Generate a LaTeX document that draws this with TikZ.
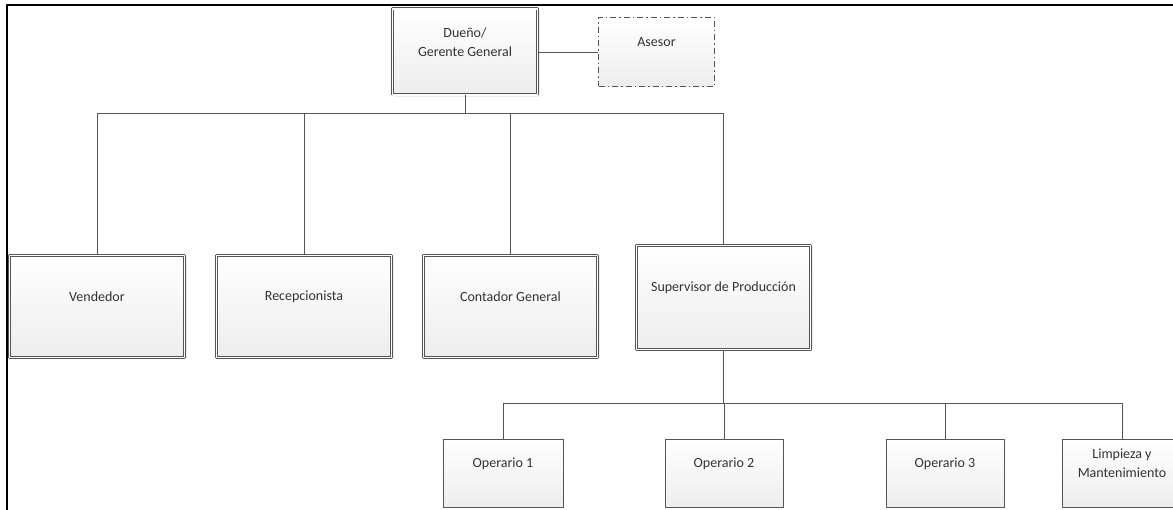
\documentclass[tikz,border=0pt]{standalone}
\usepackage{fontspec}
\setmainfont{Carlito}
\usetikzlibrary{shadows}
\definecolor{boxline}{HTML}{555555}
\definecolor{boxfill}{HTML}{EDEDED}
\definecolor{txtgray}{HTML}{333333}

\begin{document}
\begin{tikzpicture}[x=1pt,y=-1pt,line join=round,
  link/.style={draw=boxline,line width=0.9pt},
  lbl/.style={font=\fontsize{14}{19}\selectfont,text=txtgray,align=center,yshift=10pt},
  shaded/.style={top color=white,bottom color=boxfill},
  softshadow/.style={drop shadow={shadow xshift=2pt,shadow yshift=-2pt,opacity=0.15,fill=gray}},
  mainbox/.style={shaded,softshadow,draw=boxline,line width=0.7pt,double=white,double distance=1.6pt,minimum width=#1,minimum height=102pt},
  subbox/.style={shaded,draw=boxline,line width=1pt,minimum width=#1,minimum height=68pt},
  advbox/.style={shaded,draw=boxline,line width=0.8pt,dash pattern=on 6pt off 3pt on 1.5pt off 3pt,minimum width=116pt,minimum height=69pt}]
\useasboundingbox (0,0) rectangle (1173,510);
% marco
\draw[line width=2pt] (7,512) -- (7,5) -- (1175,5);
% direccion
\node[mainbox=145pt,minimum height=86pt,label={[lbl]center:{Dueño/\\Gerente General}}] (duenio) at (465,52) {};
\node[advbox,label={[lbl]center:Asesor}] (asesor) at (656.5,52) {};
% areas
\node[mainbox=175pt,label={[lbl]center:Vendedor}] (vend) at (97,306.5) {};
\node[mainbox=175pt,label={[lbl]center:Recepcionista}] (recep) at (304,306.5) {};
\node[mainbox=174pt,label={[lbl]center:Contador General}] (cont) at (510.5,306.5) {};
\node[mainbox=174pt,minimum height=104pt,label={[lbl]center:Supervisor de Producción}] (sup) at (723.5,297.5) {};
% produccion
\node[subbox=120pt,label={[lbl]center:Operario 1}] (op1) at (503,473.5) {};
\node[subbox=118pt,label={[lbl]center:Operario 2}] (op2) at (724,473.5) {};
\node[subbox=118pt,label={[lbl]center:Operario 3}] (op3) at (945,473.5) {};
\node[subbox=120pt,label={[lbl]center:{Limpieza y\\Mantenimiento}}] (limp) at (1122,473.5) {};
% conexiones
\draw[link] (duenio.east) -- (asesor.west);
\foreach \n in {vend,recep,cont,sup}
  \draw[link] (duenio.south) -- ++(0,18) -| (\n.north);
\foreach \n in {op1,op2,op3,limp}
  \draw[link] (sup.south) -- ++(0,53.5) -| (\n.north);
\end{tikzpicture}
\end{document}
